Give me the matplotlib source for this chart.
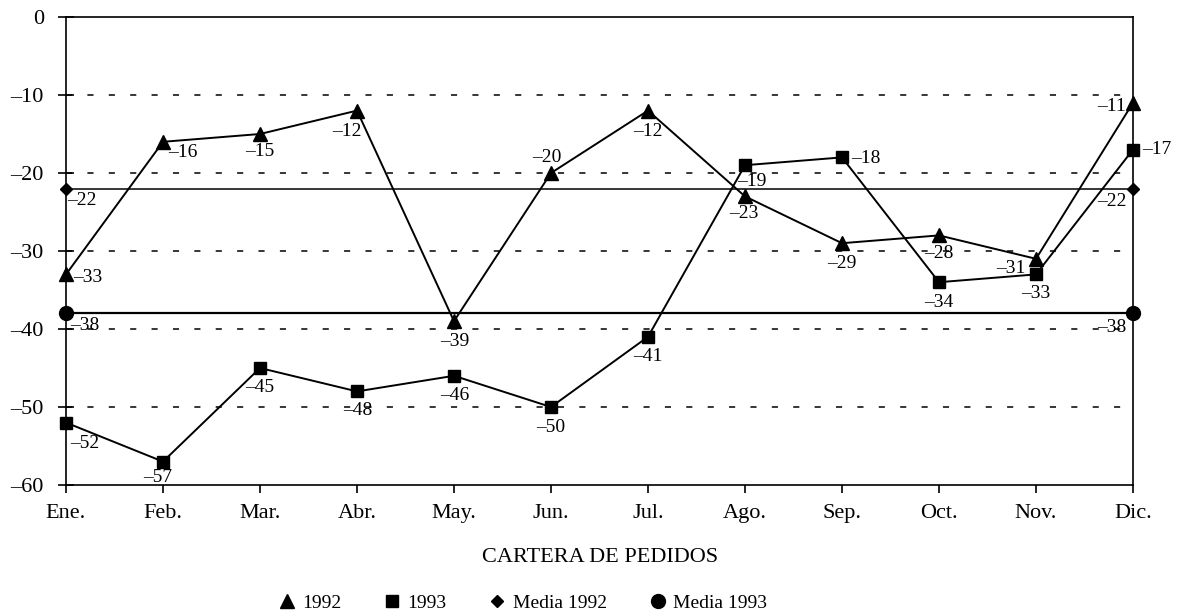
import matplotlib
matplotlib.use("Agg")
import matplotlib.pyplot as plt
import numpy as np

plt.rcParams['font.family'] = ['Liberation Serif', 'DejaVu Serif']

months = ["Ene.", "Feb.", "Mar.", "Abr.", "May.", "Jun.", "Jul.", "Ago.", "Sep.", "Oct.", "Nov.", "Dic."]
s1992 = [-33, -16, -15, -12, -39, -20, -12, -23, -29, -28, -31, -11]
s1993 = [-52, -57, -45, -48, -46, -50, -41, -19, -18, -34, -33, -17]
media1992 = -22
media1993 = -38
yticks = [-60, -50, -40, -30, -20, -10, 0]

# label offsets (pixels) per point
off1992 = [(22, -3), (20, -11), (0, -17), (-10, -21), (1, -20), (-4, 15), (0, -21), (-1, -17), (0, -20), (0, -18), (-25, -10), (-21, -4)]
off1993 = [(19, -21), (-5, -16), (0, -19), (1, -19), (1, -20), (0, -20), (0, -20), (7, -16), (24, -1), (0, -20), (0, -19), (24, 0)]

fig = plt.figure(figsize=(11.82, 6.15), dpi=100)
ax = fig.add_axes([66/1182, 1-485/615, (1133-66)/1182, (485-17)/615])
x = np.arange(len(months))

ax.plot(x, s1992, color='black', lw=1.4, marker='^', ms=10, label='1992')
ax.plot(x, s1993, color='black', lw=1.4, marker='s', ms=8.5, label='1993')
ax.plot([x[0], x[-1]], [media1992]*2, color='black', lw=1.1, marker='D', ms=6, label='Media 1992')
ax.plot([x[0], x[-1]], [media1993]*2, color='black', lw=1.6, marker='o', ms=10, label='Media 1993')

def fmt(v):
    return ("\u2013%d" % -v) if v < 0 else str(v)

lfs = 14
for i in x:
    ax.annotate(fmt(s1992[i]), (x[i], s1992[i]), xytext=off1992[i], textcoords='offset pixels',
                ha='center', va='center', fontsize=lfs)
    ax.annotate(fmt(s1993[i]), (x[i], s1993[i]), xytext=off1993[i], textcoords='offset pixels',
                ha='center', va='center', fontsize=lfs)
for xi, o in [(x[0], (16, -12)), (x[-1], (-21, -13))]:
    ax.annotate(fmt(media1992), (xi, media1992), xytext=o, textcoords='offset pixels',
                ha='center', va='center', fontsize=lfs)
for xi, o in [(x[0], (19, -12)), (x[-1], (-21, -14))]:
    ax.annotate(fmt(media1993), (xi, media1993), xytext=o, textcoords='offset pixels',
                ha='center', va='center', fontsize=lfs)

ax.set_xlim(0, len(months)-1)
ax.set_ylim(-60, 0)
ax.set_xticks(x)
ax.set_xticklabels(months, fontsize=16)
ax.set_yticks(yticks)
ax.set_yticklabels([fmt(v) for v in yticks], fontsize=16)
ax.tick_params(axis='x', direction='out', length=6, width=1.2, pad=8)
ax.tick_params(axis='y', direction='inout', length=12, width=1.2, pad=10)
for v in yticks[1:-1]:
    ax.axhline(v, color='black', lw=1.1, ls=(0, (4, 10)), zorder=0)
for sp in ax.spines.values():
    sp.set_linewidth(1.2)
for ln in ax.lines:
    ln.set_clip_on(False)

fig.text(600/1182, 1-557/615, "CARTERA DE PEDIDOS", ha='center', va='center', fontsize=16)
fig.legend(loc='center', bbox_to_anchor=(523/1182, 1-603/615), ncol=4, frameon=False,
           fontsize=14, handlelength=0.8, columnspacing=2.2, handletextpad=0.4)
for h in fig.legends[0].legend_handles:
    h.set_linestyle('none')

fig.savefig("out.png", dpi=100)
